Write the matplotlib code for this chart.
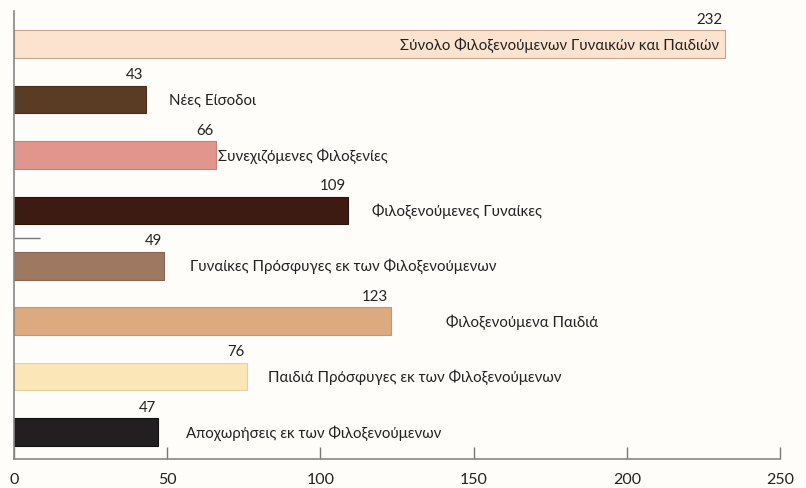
import matplotlib
matplotlib.use("Agg")
import matplotlib.pyplot as plt

plt.rcParams['font.family'] = ['Lato', 'Open Sans', 'DejaVu Sans']

# Δεδομένα (από πάνω προς τα κάτω)
categories = [
    'Σύνολο Φιλοξενούμενων Γυναικών και Παιδιών',
    'Νέες Είσοδοι',
    'Συνεχιζόμενες Φιλοξενίες',
    'Φιλοξενούμενες Γυναίκες',
    'Γυναίκες Πρόσφυγες εκ των Φιλοξενούμενων',
    'Φιλοξενούμενα Παιδιά',
    'Παιδιά Πρόσφυγες εκ των Φιλοξενούμενων',
    'Αποχωρήσεις εκ των Φιλοξενούμενων',
]
values = [232, 43, 66, 109, 49, 123, 76, 47]
colors = ['#FCE3CF', '#5A3B24', '#E0968C', '#3D1B12', '#9E7861',
          '#DDA97F', '#FBE6B8', '#231F20']
edges = ['#C9A58C', '#4A2E1B', '#C9807A', '#2E130C', '#8A6652',
         '#C9956C', '#E6CFA0', '#111111']
# θέση κειμένου κατηγορίας (σε μονάδες x)
label_x = [230, 50.5, 66.5, 117, 57.5, 141, 83, 56]

fig = plt.figure(figsize=(8.06, 4.89), dpi=100, facecolor='#FEFDFA')
ax = fig.add_axes([0.0174, 0.0593, 0.9503, 0.9162], facecolor='#FEFDFA')

n = len(values)
ypos = list(range(n - 1, -1, -1))
ax.barh(ypos, values, height=0.5, color=colors, edgecolor=edges, linewidth=0.8)

for i, (y, v) in enumerate(zip(ypos, values)):
    ax.text(v - 0.8, y + 0.33, str(v), ha='right', va='bottom', fontsize=10.8, color='#222222')
    ha = 'right' if i == 0 else 'left'
    ax.text(label_x[i], y, categories[i], ha=ha, va='center', fontsize=10.8, color='#222222')

ax.set_xlim(0, 250)
ax.set_ylim(-0.49, 7.6)
ax.set_xticks([0, 50, 100, 150, 200, 250])
ax.set_yticks([(7.6 - 0.49) / 2 - 0.05])
ax.set_yticklabels([''])
ax.tick_params(axis='x', direction='in', length=9, width=1, color='#777777',
               labelsize=11.5, labelcolor='#222222', pad=9)
ax.tick_params(axis='y', direction='in', length=19, width=1, color='#777777')

for s in ['top', 'right']:
    ax.spines[s].set_visible(False)
for s in ['left', 'bottom']:
    ax.spines[s].set_color('#888888')
    ax.spines[s].set_linewidth(1.2)

plt.savefig('out.png', dpi=100, facecolor=fig.get_facecolor())
plt.close()
